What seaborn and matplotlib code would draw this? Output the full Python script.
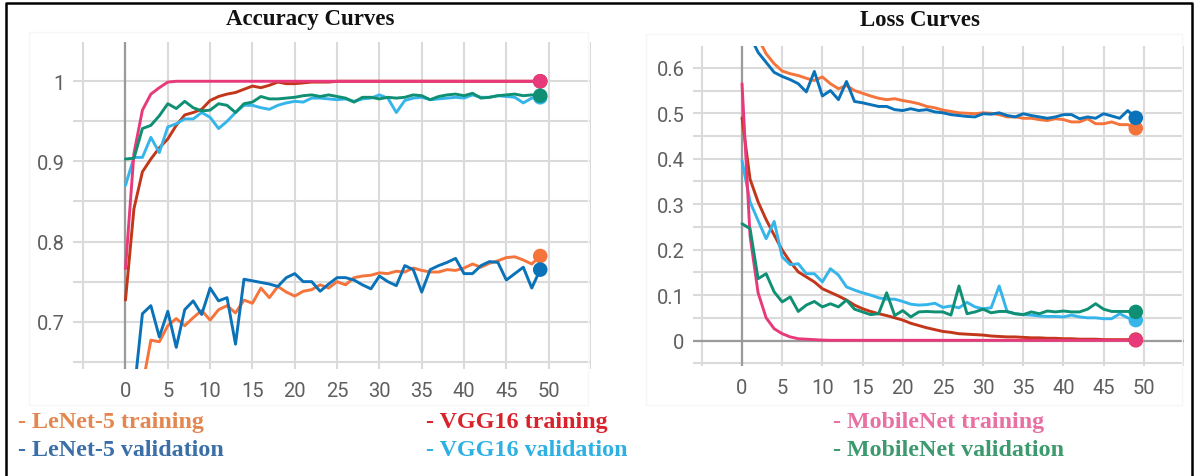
import numpy as np
import pandas as pd
import seaborn as sns
import matplotlib
matplotlib.use("Agg")
import matplotlib.pyplot as plt
from matplotlib.patches import Rectangle

# ---------------- data ----------------
epochs = list(range(50))

lenet_train_acc = [0.50, 0.56, 0.62, 0.677, 0.675, 0.695, 0.704, 0.695, 0.705, 0.714,
                   0.702, 0.715, 0.72, 0.711, 0.727, 0.723, 0.742, 0.73, 0.744, 0.737,
                   0.732, 0.738, 0.74, 0.746, 0.742, 0.75, 0.746, 0.755, 0.757, 0.758,
                   0.761, 0.76, 0.763, 0.762, 0.767, 0.764, 0.762, 0.762, 0.765, 0.764,
                   0.767, 0.772, 0.768, 0.773, 0.776, 0.78, 0.781, 0.777, 0.772, 0.782]
lenet_val_acc = [0.55, 0.61, 0.71, 0.72, 0.681, 0.713, 0.668, 0.715, 0.726, 0.709,
                 0.742, 0.726, 0.73, 0.672, 0.753, 0.751, 0.749, 0.747, 0.744, 0.755,
                 0.76, 0.75, 0.75, 0.738, 0.747, 0.755, 0.755, 0.752, 0.746, 0.741,
                 0.757, 0.75, 0.745, 0.77, 0.765, 0.737, 0.765, 0.77, 0.774, 0.779,
                 0.76, 0.76, 0.77, 0.775, 0.774, 0.752, 0.76, 0.768, 0.742, 0.765]
vgg_train_acc = [0.727, 0.841, 0.887, 0.903, 0.917, 0.928, 0.945, 0.958, 0.961, 0.965,
                 0.976, 0.981, 0.984, 0.986, 0.99, 0.994, 0.992, 0.995, 0.999, 0.997,
                 0.997, 0.998, 0.999, 0.999, 0.999, 1.0, 1.0, 1.0, 1.0, 1.0,
                 1.0, 1.0, 1.0, 1.0, 1.0, 1.0, 1.0, 1.0, 1.0, 1.0,
                 1.0, 1.0, 1.0, 1.0, 1.0, 1.0, 1.0, 1.0, 1.0, 1.0]
vgg_val_acc = [0.87, 0.905, 0.905, 0.93, 0.911, 0.943, 0.947, 0.953, 0.953, 0.961,
               0.955, 0.941, 0.95, 0.961, 0.97, 0.97, 0.967, 0.965, 0.97, 0.973,
               0.975, 0.974, 0.979, 0.979, 0.978, 0.977, 0.978, 0.975, 0.978, 0.979,
               0.983, 0.979, 0.961, 0.976, 0.979, 0.98, 0.977, 0.978, 0.979, 0.98,
               0.979, 0.983, 0.98, 0.98, 0.982, 0.981, 0.98, 0.973, 0.979, 0.98]
mob_train_acc = [0.766, 0.91, 0.964, 0.984, 0.992, 0.999, 1.0, 1.0, 1.0, 1.0,
                 1.0, 1.0, 1.0, 1.0, 1.0, 1.0, 1.0, 1.0, 1.0, 1.0,
                 1.0, 1.0, 1.0, 1.0, 1.0, 1.0, 1.0, 1.0, 1.0, 1.0,
                 1.0, 1.0, 1.0, 1.0, 1.0, 1.0, 1.0, 1.0, 1.0, 1.0,
                 1.0, 1.0, 1.0, 1.0, 1.0, 1.0, 1.0, 1.0, 1.0, 1.0]
mob_val_acc = [0.903, 0.904, 0.941, 0.945, 0.957, 0.972, 0.966, 0.975, 0.967, 0.963,
               0.964, 0.972, 0.97, 0.961, 0.972, 0.974, 0.981, 0.978, 0.978, 0.979,
               0.98, 0.982, 0.983, 0.981, 0.983, 0.981, 0.979, 0.974, 0.98, 0.98,
               0.978, 0.98, 0.979, 0.98, 0.983, 0.982, 0.977, 0.981, 0.983, 0.984,
               0.982, 0.985, 0.979, 0.98, 0.982, 0.983, 0.984, 0.982, 0.983, 0.982]

lenet_train_loss = [0.80, 0.71, 0.665, 0.631, 0.609, 0.593, 0.587, 0.583, 0.577, 0.572,
                    0.58, 0.565, 0.554, 0.561, 0.55, 0.544, 0.538, 0.533, 0.53, 0.532,
                    0.528, 0.525, 0.521, 0.515, 0.512, 0.507, 0.504, 0.501, 0.5, 0.499,
                    0.501, 0.5, 0.497, 0.492, 0.492, 0.489, 0.489, 0.486, 0.484, 0.488,
                    0.486, 0.481, 0.481, 0.488, 0.477, 0.477, 0.481, 0.475, 0.475, 0.467]
lenet_val_loss = [0.75, 0.67, 0.634, 0.612, 0.59, 0.581, 0.574, 0.565, 0.547, 0.592,
                  0.538, 0.55, 0.53, 0.57, 0.526, 0.523, 0.519, 0.515, 0.515, 0.508,
                  0.506, 0.51, 0.506, 0.508, 0.503, 0.501, 0.497, 0.495, 0.493, 0.492,
                  0.499, 0.498, 0.501, 0.495, 0.492, 0.499, 0.495, 0.492, 0.489, 0.492,
                  0.497, 0.497, 0.488, 0.492, 0.489, 0.499, 0.494, 0.489, 0.506, 0.49]
vgg_train_loss = [0.49, 0.355, 0.305, 0.266, 0.232, 0.199, 0.173, 0.151, 0.14, 0.129,
                  0.114, 0.106, 0.098, 0.089, 0.078, 0.07, 0.064, 0.059, 0.055, 0.05,
                  0.045, 0.038, 0.033, 0.028, 0.024, 0.02, 0.018, 0.015, 0.014, 0.013,
                  0.012, 0.01, 0.009, 0.008, 0.008, 0.007, 0.006, 0.006, 0.005, 0.005,
                  0.004, 0.004, 0.003, 0.003, 0.003, 0.002, 0.002, 0.002, 0.002, 0.002]
vgg_val_loss = [0.396, 0.305, 0.264, 0.224, 0.262, 0.184, 0.167, 0.169, 0.147, 0.147,
                0.129, 0.158, 0.144, 0.118, 0.111, 0.105, 0.1, 0.094, 0.091, 0.091,
                0.086, 0.08, 0.078, 0.079, 0.082, 0.073, 0.076, 0.072, 0.084, 0.074,
                0.07, 0.072, 0.12, 0.063, 0.059, 0.057, 0.056, 0.054, 0.053, 0.053,
                0.052, 0.056, 0.052, 0.05, 0.05, 0.048, 0.048, 0.059, 0.05, 0.045]
mob_train_loss = [0.565, 0.23, 0.105, 0.05, 0.026, 0.015, 0.008, 0.004, 0.003, 0.002,
                  0.001, 0.0005, 0.0005, 0.0005, 0.0005, 0.0005, 0.0005, 0.0005, 0.0005, 0.0005,
                  0.0005, 0.0005, 0.0005, 0.0005, 0.0005, 0.0005, 0.0005, 0.0005, 0.0005, 0.0005,
                  0.0005, 0.0005, 0.0005, 0.0005, 0.0005, 0.0005, 0.0005, 0.0005, 0.0005, 0.0005,
                  0.0005, 0.0005, 0.0005, 0.0005, 0.0005, 0.0005, 0.0005, 0.0005, 0.0005, 0.0005]
mob_val_loss = [0.257, 0.246, 0.136, 0.147, 0.107, 0.085, 0.096, 0.064, 0.078, 0.086,
                0.074, 0.081, 0.074, 0.089, 0.069, 0.063, 0.057, 0.059, 0.105, 0.055,
                0.066, 0.052, 0.063, 0.064, 0.063, 0.063, 0.056, 0.12, 0.059, 0.063,
                0.069, 0.061, 0.064, 0.064, 0.059, 0.057, 0.063, 0.059, 0.065, 0.063,
                0.065, 0.063, 0.063, 0.069, 0.081, 0.069, 0.064, 0.064, 0.064, 0.063]

series_names = ["LeNet-5 training", "LeNet-5 validation", "VGG16 training",
                "VGG16 validation", "MobileNet training", "MobileNet validation"]
acc_values = [lenet_train_acc, lenet_val_acc, vgg_train_acc, vgg_val_acc, mob_train_acc, mob_val_acc]
loss_values = [lenet_train_loss, lenet_val_loss, vgg_train_loss, vgg_val_loss, mob_train_loss, mob_val_loss]

acc_y_major = [0.7, 0.8, 0.9, 1.0]
acc_y_labels = ["0.7", "0.8", "0.9", "1"]
acc_y_minor = [0.65, 0.75, 0.85, 0.95]
loss_y_major = [0.0, 0.1, 0.2, 0.3, 0.4, 0.5, 0.6]
loss_y_labels = ["0", "0.1", "0.2", "0.3", "0.4", "0.5", "0.6"]
loss_y_minor = [-0.05, 0.05, 0.15, 0.25, 0.35, 0.45, 0.55]
x_ticks = [-5, 0, 5, 10, 15, 20, 25, 30, 35, 40, 45, 50, 55]
x_tick_labels = ["", "0", "5", "10", "15", "20", "25", "30", "35", "40", "45", "50", ""]

# ---------------- style ----------------
line_colors = {
    "LeNet-5 training": "#f4743b",
    "LeNet-5 validation": "#0a72b8",
    "VGG16 training": "#c2361a",
    "VGG16 validation": "#36b5ea",
    "MobileNet training": "#e83a7a",
    "MobileNet validation": "#0f9074",
}
text_colors = {
    "LeNet-5 training": "#e4864f",
    "LeNet-5 validation": "#3a6fa8",
    "VGG16 training": "#d8222c",
    "VGG16 validation": "#2db0e2",
    "MobileNet training": "#e870a2",
    "MobileNet validation": "#3c9a6e",
}

sns.set_theme(style="white")
plt.rcParams["font.family"] = ["Roboto", "DejaVu Sans"]

W, H = 1195, 477
fig = plt.figure(figsize=(W / 100, H / 100), dpi=100)
fig.patch.set_facecolor("white")


def frac_box(x0, y0, x1, y1):
    return [x0 / W, 1 - y1 / H, (x1 - x0) / W, (y1 - y0) / H]


def long_df(values):
    rows = []
    for name, vals in zip(series_names, values):
        for e, v in zip(epochs, vals):
            rows.append({"epoch": e, "value": v, "series": name})
    return pd.DataFrame(rows)


def style_axes(ax, xlim, ylim, y_major, y_labels, y_minor, zero_h):
    ax.set_xlim(*xlim)
    ax.set_ylim(*ylim)
    ax.set_xticks(x_ticks)
    ax.set_xticklabels(x_tick_labels)
    ax.set_yticks(y_major)
    ax.set_yticklabels(y_labels)
    ax.set_yticks(y_minor, minor=True)
    ax.grid(True, which="both", color="#dadada", linewidth=1.5)
    ax.set_axisbelow(True)
    for s in ax.spines.values():
        s.set_visible(False)
    ax.tick_params(axis="both", which="both", length=0, labelsize=14.5,
                   labelcolor="#5f5f5f")
    ax.tick_params(axis="x", pad=9)
    ax.tick_params(axis="y", pad=6)
    ax.set_xlabel("")
    ax.set_ylabel("")
    ax.axvline(0, color="#9a9a9a", linewidth=1.6, zorder=1)
    if zero_h:
        ax.axhline(0, color="#9a9a9a", linewidth=1.6, zorder=1)


# very faint card outlines
fig.patches.append(Rectangle((29 / W, 1 - 406 / H), (588 - 29) / W, (406 - 33) / H,
                             transform=fig.transFigure, fill=False,
                             edgecolor="#f6f6f6", linewidth=1.0))
fig.patches.append(Rectangle((646 / W, 1 - 406 / H), (1182 - 646) / W, (406 - 35) / H,
                             transform=fig.transFigure, fill=False,
                             edgecolor="#f6f6f6", linewidth=1.0))

ax1 = fig.add_axes(frac_box(73, 43, 591, 370))
ax2 = fig.add_axes(frac_box(693, 47, 1184, 367))

for ax, vals, xlim, ylim, ym, yl, ymin, zh in [
    (ax1, acc_values, (-6.2, 55), (0.641, 1.049), acc_y_major, acc_y_labels, acc_y_minor, False),
    (ax2, loss_values, (-6.1, 55), (-0.056, 0.648), loss_y_major, loss_y_labels, loss_y_minor, True),
]:
    df = long_df(vals)
    sns.lineplot(data=df, x="epoch", y="value", hue="series", hue_order=series_names,
                 palette=line_colors, linewidth=2.1, legend=False, ax=ax, zorder=3)
    last = df[df["epoch"] == epochs[-1]]
    sns.scatterplot(data=last, x="epoch", y="value", hue="series", hue_order=series_names,
                    palette=line_colors, s=110, linewidth=0, legend=False, ax=ax, zorder=4)
    style_axes(ax, xlim, ylim, ym, yl, ymin, zh)

# titles
serif = ["Liberation Serif", "DejaVu Serif"]
fig.text(310 / W, 1 - 20 / H, "Accuracy Curves", ha="center", va="center",
         fontsize=16.5, fontweight="bold", family=serif, color="#111111")
fig.text(920 / W, 1 - 20 / H, "Loss Curves", ha="center", va="center",
         fontsize=16.5, fontweight="bold", family=serif, color="#111111")

# legend-like text labels
legend_x = {"LeNet-5": 18, "VGG16": 426, "MobileNet": 833}
for name in series_names:
    model = name.split(" ")[0]
    row_y = 423 if "training" in name else 451
    fig.text(legend_x[model] / W, 1 - row_y / H, "- " + name, ha="left", va="center",
             fontsize=17.3, fontweight="bold", family=serif, color=text_colors[name])

# outer frame (left, top, right)
fig.lines.append(plt.Line2D([6 / W, 6 / W, 1192 / W, 1192 / W],
                            [0, 1 - 4 / H, 1 - 4 / H, 0],
                            transform=fig.transFigure, color="black", linewidth=1.8))

fig.savefig("out.png", dpi=100, facecolor="white")
